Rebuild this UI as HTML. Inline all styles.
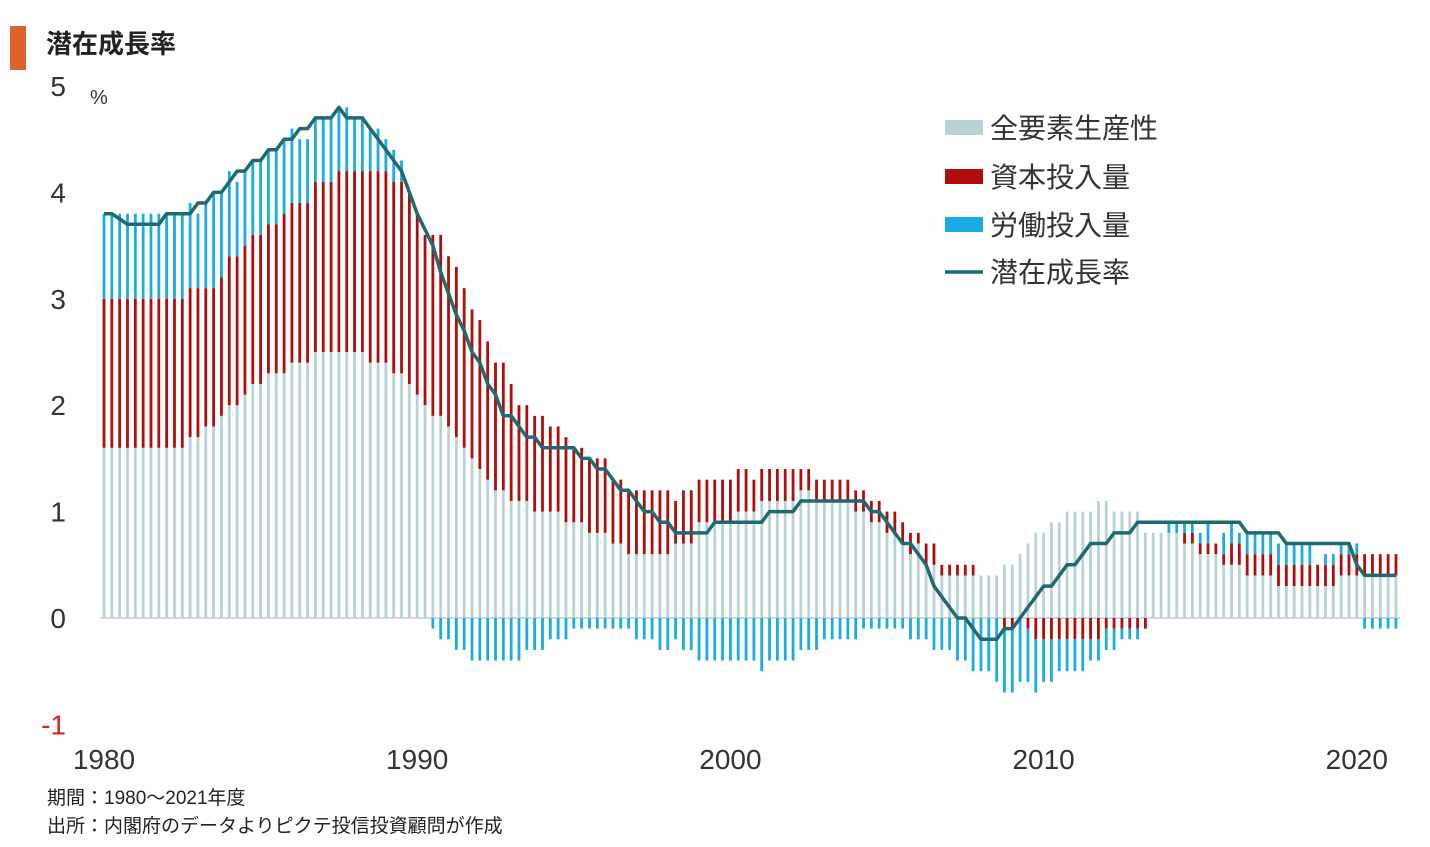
<!DOCTYPE html>
<html><head><meta charset="utf-8">
<style>
body{margin:0;background:#fff;width:1430px;height:842px;overflow:hidden;font-family:"Liberation Sans","Noto Sans CJK JP",sans-serif;}
svg text{font-family:"Liberation Sans","Noto Sans CJK JP",sans-serif;}
</style></head>
<body>
<svg id="chart" width="1430" height="842" viewBox="0 0 1430 842" xmlns="http://www.w3.org/2000/svg">
  <rect x="10" y="26" width="16" height="44" fill="#e0622a"/>
  <text x="46" y="53" font-size="26" font-weight="bold" fill="#222">潜在成長率</text>
  <text x="90" y="104" font-size="20" fill="#333">%</text>
  <g id="yticks"></g>
  <g id="xticks"></g>
  <line x1="100" y1="618" x2="1400" y2="618" stroke="#d6d6d6" stroke-width="2"/>
  <g id="bars"></g>
  <path id="line" fill="none" stroke="#1f6a70" stroke-width="3.5" stroke-linejoin="round"/>
  <g>
    <rect x="945" y="120" width="38" height="15" fill="#b8d3d5"/>
    <text x="990" y="138" font-size="28" fill="#333">全要素生産性</text>
    <rect x="945" y="169" width="38" height="15" fill="#b00d0d"/>
    <text x="990" y="187" font-size="28" fill="#333">資本投入量</text>
    <rect x="945" y="217" width="38" height="15" fill="#19ace3"/>
    <text x="990" y="235" font-size="28" fill="#333">労働投入量</text>
    <line x1="945" y1="272" x2="983" y2="272" stroke="#1f6a70" stroke-width="3.5"/>
    <text x="990" y="282" font-size="28" fill="#333">潜在成長率</text>
  </g>
  <text x="47" y="804" font-size="19" fill="#222">期間：1980～2021年度</text>
  <text x="47" y="832" font-size="19" fill="#222">出所：内閣府のデータよりピクテ投信投資顧問が作成</text>
</svg>
<script>
const yTickValues=[5,4,3,2,1,0,-1];
const xTickYears=[1980,1990,2000,2010,2020];
const tfp=[1.6,1.6,1.6,1.6,1.6,1.6,1.6,1.6,1.6,1.6,1.6,1.7,1.7,1.8,1.8,1.9,2.0,2.0,2.1,2.2,2.2,2.3,2.3,2.3,2.4,2.4,2.4,2.5,2.5,2.5,2.5,2.5,2.5,2.5,2.4,2.4,2.4,2.3,2.3,2.2,2.1,2.0,1.9,
1.9,1.8,1.7,1.6,1.5,1.4,1.3,1.2,1.2,1.1,1.1,1.1,1.0,1.0,1.0,1.0,0.9,0.9,0.9,0.8,0.8,0.8,0.7,0.7,0.6,0.6,0.6,0.6,0.6,0.6,0.7,0.7,0.7,0.9,0.9,0.9,0.9,0.9,1.0,1.0,1.0,
1.1,1.1,1.1,1.1,1.1,1.2,1.2,1.1,1.1,1.1,1.1,1.1,1.0,1.0,0.9,0.9,0.8,0.8,0.7,0.6,0.7,0.5,0.5,0.4,0.4,0.4,0.4,0.4,0.4,0.4,0.4,0.5,0.5,0.6,0.7,0.8,0.8,0.9,0.9,1.0,1.0,1.0,1.0,
1.1,1.1,1.0,1.0,1.0,1.0,0.8,0.8,0.8,0.8,0.8,0.7,0.7,0.6,0.6,0.6,0.5,0.5,0.5,0.4,0.4,0.4,0.4,0.3,0.3,0.3,0.3,0.3,0.3,0.3,0.3,0.4,0.4,0.4,0.4,0.4,0.4,0.4,0.4];
const capital=[1.4,1.4,1.4,1.4,1.4,1.4,1.4,1.4,1.4,1.4,1.4,1.4,1.4,1.3,1.3,1.3,1.4,1.4,1.4,1.4,1.4,1.4,1.4,1.5,1.5,1.5,1.5,1.6,1.6,1.6,1.7,1.7,1.7,1.7,1.8,1.8,1.8,1.8,1.8,1.8,1.7,1.6,1.7,
1.7,1.6,1.6,1.5,1.4,1.4,1.3,1.2,1.2,1.1,0.9,0.9,0.9,0.9,0.8,0.8,0.8,0.7,0.7,0.7,0.7,0.7,0.6,0.6,0.6,0.6,0.6,0.6,0.6,0.6,0.4,0.5,0.5,0.4,0.4,0.4,0.4,0.4,0.4,0.4,0.3,
0.3,0.3,0.3,0.3,0.3,0.2,0.2,0.2,0.2,0.2,0.2,0.2,0.2,0.2,0.2,0.2,0.2,0.2,0.2,0.2,0.1,0.2,0.2,0.1,0.1,0.1,0.1,0.1,0,0,0,-0.1,-0.1,0,-0.1,-0.2,-0.2,-0.2,-0.2,-0.2,-0.2,-0.2,-0.2,
-0.2,-0.1,-0.1,-0.1,-0.1,-0.1,-0.1,0,0,0,0,0.1,0.1,0.1,0.1,0.1,0.1,0.2,0.2,0.2,0.2,0.2,0.2,0.2,0.2,0.2,0.2,0.2,0.2,0.2,0.2,0.2,0.2,0.2,0.2,0.2,0.2,0.2,0.2,0.2,0.2];
const labor=[0.8,0.8,0.8,0.8,0.8,0.8,0.8,0.8,0.8,0.8,0.8,0.8,0.7,0.8,0.9,0.8,0.8,0.7,0.7,0.7,0.7,0.7,0.7,0.7,0.7,0.6,0.6,0.6,0.6,0.6,0.6,0.6,0.5,0.5,0.4,0.4,0.3,0.3,0.2,0,0,0,-0.1,
-0.2,-0.2,-0.3,-0.3,-0.4,-0.4,-0.4,-0.4,-0.4,-0.4,-0.4,-0.3,-0.3,-0.3,-0.2,-0.2,-0.2,-0.1,-0.1,-0.1,-0.1,-0.1,-0.1,-0.1,-0.1,-0.2,-0.2,-0.2,-0.3,-0.3,-0.2,-0.3,-0.3,-0.4,-0.4,-0.4,-0.4,-0.4,-0.4,-0.4,-0.4,
-0.5,-0.4,-0.4,-0.4,-0.4,-0.3,-0.3,-0.3,-0.2,-0.2,-0.2,-0.2,-0.2,-0.1,-0.1,-0.1,-0.1,-0.1,-0.1,-0.2,-0.2,-0.2,-0.3,-0.3,-0.3,-0.4,-0.4,-0.5,-0.5,-0.5,-0.6,-0.6,-0.6,-0.6,-0.5,-0.5,-0.4,-0.4,-0.3,-0.3,-0.3,-0.3,-0.2,
-0.2,-0.2,-0.2,-0.1,-0.1,-0.1,0,0,0,0.1,0.1,0.1,0.1,0.1,0.2,0,0.2,0.2,0.1,0.2,0.2,0.2,0.2,0.2,0.2,0.2,0.2,0.2,0,0.1,0.1,0.1,0.1,0.1,-0.1,-0.1,-0.1,-0.1,-0.1];
const potential=[3.8,3.8,3.75,3.7,3.7,3.7,3.7,3.7,3.8,3.8,3.8,3.8,3.9,3.9,4.0,4.0,4.1,4.2,4.2,4.3,4.3,4.4,4.4,4.5,4.5,4.6,4.6,4.7,4.7,4.7,4.8,4.7,4.7,4.7,4.6,4.5,4.4,4.3,4.2,4.0,3.8,3.65,3.5,
3.25,3.05,2.85,2.7,2.5,2.4,2.2,2.1,1.9,1.9,1.8,1.7,1.7,1.6,1.6,1.6,1.6,1.6,1.5,1.5,1.4,1.4,1.3,1.2,1.2,1.1,1.0,1.0,0.9,0.9,0.8,0.8,0.8,0.8,0.8,0.9,0.9,0.9,0.9,0.9,0.9,
0.9,1.0,1.0,1.0,1.0,1.1,1.1,1.1,1.1,1.1,1.1,1.1,1.1,1.1,1.0,1.0,0.9,0.8,0.7,0.7,0.6,0.5,0.3,0.2,0.1,0.0,0.0,-0.1,-0.2,-0.2,-0.2,-0.1,-0.1,0.0,0.1,0.2,0.3,0.3,0.4,0.5,0.5,0.6,0.7,
0.7,0.7,0.8,0.8,0.8,0.9,0.9,0.9,0.9,0.9,0.9,0.9,0.9,0.9,0.9,0.9,0.9,0.9,0.9,0.8,0.8,0.8,0.8,0.8,0.7,0.7,0.7,0.7,0.7,0.7,0.7,0.7,0.7,0.5,0.4,0.4,0.4,0.4,0.4];

const NS='http://www.w3.org/2000/svg';
const startYear=1980, x0=104, pxPerYear=31.32;
const y0=618, pxPerUnit=106.4;
function xScale(year){return x0+(year-startYear)*pxPerYear;}
function xIndex(i){return xScale(startYear+i/4);}
function yScale(v){return y0-v*pxPerUnit;}

const yt=document.getElementById('yticks');
yTickValues.forEach(v=>{
  const t=document.createElementNS(NS,'text');
  
  
  t.setAttribute('x',66);t.setAttribute('y',yScale(v)+10);
  t.setAttribute('text-anchor','end');t.setAttribute('font-size','28');
  t.setAttribute('fill',v<0?'#d62020':'#333');
  t.textContent=v<0?'-'+Math.abs(v):String(v);
  yt.appendChild(t);
});
const xt=document.getElementById('xticks');
xTickYears.forEach(y=>{
  const t=document.createElementNS(NS,'text');
  
  
  t.setAttribute('x',xScale(y));t.setAttribute('y',769);
  t.setAttribute('text-anchor','middle');t.setAttribute('font-size','28');t.setAttribute('fill','#333');
  t.textContent=y;
  xt.appendChild(t);
});
const g=document.getElementById('bars');
function seg(x,a,b,color,name){
  if(Math.abs(b-a)<1e-9)return;
  const r=document.createElementNS(NS,'rect');
  
  
  const ya=yScale(a),yb=yScale(b);
  r.setAttribute('x',x-1.4);r.setAttribute('width',2.8);
  r.setAttribute('y',Math.min(ya,yb));r.setAttribute('height',Math.abs(ya-yb));
  r.setAttribute('fill',color);
  g.appendChild(r);
}
for(let i=0;i<tfp.length;i++){
  const x=xIndex(i);
  let pos=0,neg=0;
  [[tfp[i],'#b8d3d5','bar-tfp'],[capital[i],'#b00d0d','bar-capital'],[labor[i],'#19ace3','bar-labor']].forEach(([v,c,n])=>{
    if(v>=0){seg(x,pos,pos+v,c,n);pos+=v;}
    else{seg(x,neg,neg+v,c,n);neg+=v;}
  });
}
let d='';
potential.forEach((v,i)=>{d+=(i?'L':'M')+xIndex(i).toFixed(1)+','+yScale(v).toFixed(1);});
document.getElementById('line').setAttribute('d',d);
</script>
</body></html>
